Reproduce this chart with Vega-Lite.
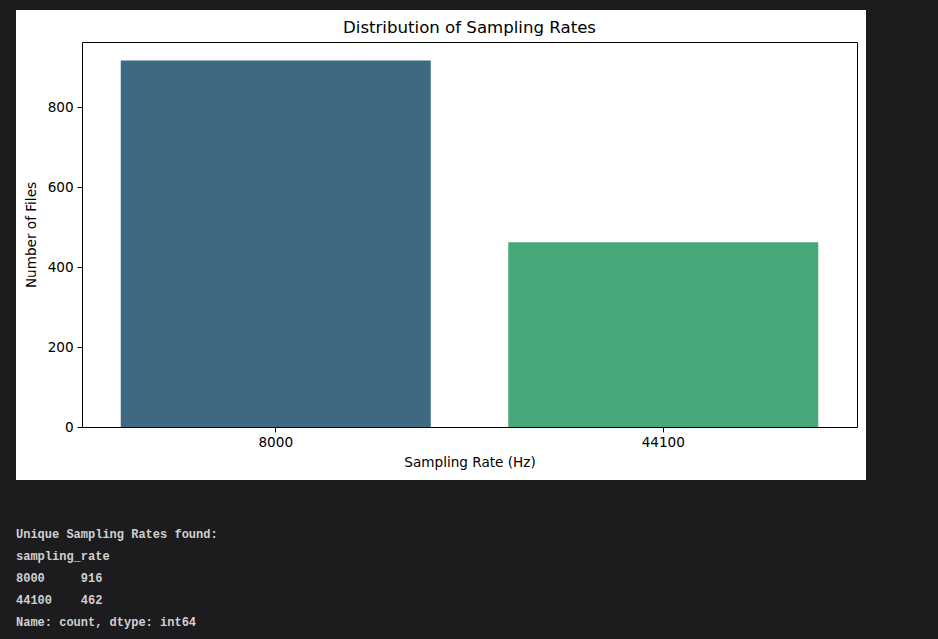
{
  "$schema": "https://vega.github.io/schema/vega-lite/v6.json",
  "background": "#1c1c1e",
  "padding": {"left": 16, "top": 10, "right": 0, "bottom": 6},
  "spacing": 43,
  "config": {
    "view": {"stroke": null},
    "font": "DejaVu Sans",
    "axis": {
      "labelFont": "DejaVu Sans",
      "labelFontSize": 13.6,
      "labelColor": "black",
      "titleFont": "DejaVu Sans",
      "titleFontSize": 13.6,
      "titleFontWeight": "normal",
      "titleColor": "black",
      "domainColor": "black",
      "domainWidth": 1,
      "tickColor": "black",
      "tickWidth": 1,
      "tickSize": 4.9,
      "labelPadding": 4,
      "grid": false,
      "zindex": 1
    }
  },
  "vconcat": [
    {
      "width": 850,
      "height": 470,
      "view": {"fill": "white", "stroke": null},
      "title": {
        "text": "Distribution of Sampling Rates",
        "frame": "group",
        "anchor": "middle",
        "offset": -40,
        "baseline": "alphabetic",
        "dx": 28.5,
        "font": "DejaVu Sans",
        "fontSize": 16.6,
        "fontWeight": "normal",
        "color": "black"
      },
      "data": {"values": [
        {"sampling_rate": "8000", "count": 916},
        {"sampling_rate": "44100", "count": 462}
      ]},
      "layer": [
        {
          "mark": {"type": "bar"},
          "encoding": {
            "x": {
              "field": "sampling_rate", "type": "nominal", "sort": null,
              "scale": {"range": [66, 841], "paddingInner": 0.2, "paddingOuter": 0.1},
              "axis": {"orient": "bottom", "offset": -53, "title": "Sampling Rate (Hz)", "labelAngle": 0, "titlePadding": 6}
            },
            "y": {
              "field": "count", "type": "quantitative",
              "scale": {"domain": [0, 962.5], "range": [417, 32], "nice": false},
              "axis": {"orient": "left", "offset": -66, "title": "Number of Files", "values": [0, 200, 400, 600, 800], "titlePadding": 9}
            },
            "color": {
              "field": "sampling_rate", "type": "nominal", "sort": null,
              "scale": {"domain": ["8000", "44100"], "range": ["#3e6982", "#47a97a"]},
              "legend": null
            }
          }
        },
        {
          "mark": {"type": "bar", "opacity": 0},
          "encoding": {
            "x": {
              "field": "sampling_rate", "type": "nominal", "sort": null,
              "axis": {"orient": "top", "offset": -32, "title": null, "labels": false, "ticks": false}
            },
            "y": {
              "field": "count", "type": "quantitative",
              "axis": {"orient": "right", "offset": -9, "title": null, "labels": false, "ticks": false}
            }
          }
        }
      ],
      "resolve": {"axis": {"x": "independent", "y": "independent"}}
    },
    {
      "width": 922,
      "height": 110,
      "view": {"fill": null, "stroke": null},
      "data": {"values": [
        {"line": 1, "text": "Unique Sampling Rates found:"},
        {"line": 2, "text": "sampling_rate"},
        {"line": 3, "text": "8000\u00a0\u00a0\u00a0\u00a0\u00a0916"},
        {"line": 4, "text": "44100\u00a0\u00a0\u00a0\u00a0462"},
        {"line": 5, "text": "Name: count, dtype: int64"}
      ]},
      "mark": {"type": "text", "align": "left", "baseline": "middle", "font": "Liberation Mono", "fontSize": 12, "fontWeight": "bold", "color": "#d0d0d0"},
      "encoding": {
        "x": {"value": 0},
        "y": {"field": "line", "type": "ordinal", "scale": {"type": "point", "padding": 0.5}, "axis": null},
        "text": {"field": "text"}
      }
    }
  ]
}
